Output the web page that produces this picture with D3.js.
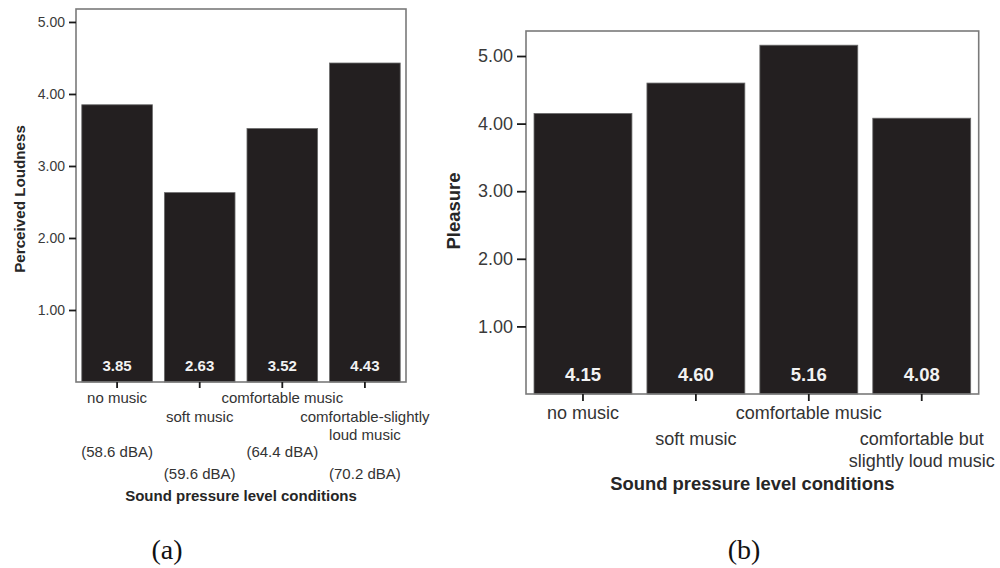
<!DOCTYPE html>
<html>
<head>
<meta charset="utf-8">
<script src="https://cdn.jsdelivr.net/npm/d3@7"></script>
<style>
  html, body { margin: 0; padding: 0; background: #fff; }
  svg { display: block; font-family: "Liberation Sans", Arial, sans-serif; }
</style>
</head>
<body>
<svg id="chart" width="1000" height="568"></svg>
<script>
// Panel (a): perceived loudness per sound pressure level condition
const categoriesA = [["no music"], ["soft music"], ["comfortable music"], ["comfortable-slightly", "loud music"]];
const levelsA = ["(58.6 dBA)", "(59.6 dBA)", "(64.4 dBA)", "(70.2 dBA)"];
const loudness = [3.85, 2.63, 3.52, 4.43];

// Panel (b): pleasure per sound pressure level condition
const categoriesB = [["no music"], ["soft music"], ["comfortable music"], ["comfortable but", "slightly loud music"]];
const pleasure = [4.15, 4.60, 5.16, 4.08];

const yTicks = [1, 2, 3, 4, 5];
const xTitle = "Sound pressure level conditions";
const panelTags = ["(a)", "(b)"];

const svg = d3.select("#chart");
const barFill = "#231f20";

function panel(cfg) {
  const g = svg.append("g");
  const keys = cfg.values.map((d, i) => i);
  const x = d3.scaleBand().domain(keys).range([cfg.left, cfg.right])
    .paddingInner(cfg.padIn).paddingOuter(cfg.padOut);
  const y = d3.scaleLinear().domain([0, cfg.yMax]).range([cfg.bottom, cfg.top]);

  // bars
  g.selectAll("rect.bar").data(cfg.values).join("rect")
    .attr("class", "bar")
    .attr("x", (d, i) => x(i))
    .attr("width", x.bandwidth())
    .attr("y", d => y(d))
    .attr("height", d => y(0) - y(d))
    .attr("fill", barFill)
    .attr("stroke", "#6a6a6a")
    .attr("stroke-width", 0.8);

  // value labels at the foot of each bar
  g.selectAll("text.val").data(cfg.values).join("text")
    .attr("class", "val")
    .attr("x", (d, i) => x(i) + x.bandwidth() / 2)
    .attr("y", y(0) - cfg.valLift)
    .attr("text-anchor", "middle")
    .attr("font-weight", "bold")
    .attr("font-size", cfg.valSize)
    .attr("fill", "#f2f2f2")
    .text(d => d.toFixed(2));

  // frame
  g.append("rect")
    .attr("x", cfg.left).attr("y", cfg.top)
    .attr("width", cfg.right - cfg.left).attr("height", cfg.bottom - cfg.top)
    .attr("fill", "none").attr("stroke", "#7a7a7a").attr("stroke-width", 1.6);

  // y axis
  const ya = g.append("g").attr("transform", `translate(${cfg.left},0)`)
    .call(d3.axisLeft(y).tickValues(yTicks).tickSize(cfg.yTick).tickPadding(4)
      .tickFormat(d3.format(".2f")));
  ya.select(".domain").remove();
  ya.selectAll(".tick line").attr("stroke", "#1a1a1a").attr("stroke-width", 1.8);
  ya.selectAll(".tick text").attr("font-size", cfg.tickSize)
    .attr("font-family", "Liberation Sans, Arial, sans-serif").attr("fill", "#3a3a3a");

  // x axis ticks
  const xa = g.append("g").attr("transform", `translate(0,${cfg.bottom})`)
    .call(d3.axisBottom(x).tickSize(cfg.xTick).tickFormat(""));
  xa.select(".domain").remove();
  xa.selectAll(".tick line").attr("stroke", "#1a1a1a").attr("stroke-width", 1.8);

  // staggered category labels
  cfg.cats.forEach((lines, i) => {
    const cx = x(i) + x.bandwidth() / 2;
    const start = i % 2 === 0 ? cfg.catY0 : cfg.catY1;
    lines.forEach((t, k) => {
      g.append("text")
        .attr("x", cx).attr("y", start + k * cfg.lineH)
        .attr("text-anchor", "middle")
        .attr("font-size", cfg.catSize)
        .attr("fill", "#333")
        .text(t);
    });
    if (cfg.levels) {
      g.append("text")
        .attr("x", cx).attr("y", i % 2 === 0 ? cfg.lvlY0 : cfg.lvlY1)
        .attr("text-anchor", "middle")
        .attr("font-size", cfg.catSize)
        .attr("fill", "#333")
        .text(cfg.levels[i]);
    }
  });

  // axis titles
  g.append("text")
    .attr("x", (cfg.left + cfg.right) / 2).attr("y", cfg.xTitleY)
    .attr("text-anchor", "middle").attr("font-weight", "bold")
    .attr("font-size", cfg.titleSize).attr("fill", "#262626")
    .text(xTitle);
  g.append("text")
    .attr("transform", `translate(${cfg.yTitleX},${cfg.yTitleY}) rotate(-90)`)
    .attr("text-anchor", "middle").attr("font-weight", "bold")
    .attr("font-size", cfg.yTitleSize).attr("fill", "#262626")
    .text(cfg.yTitle);

  // panel tag
  svg.append("text")
    .attr("x", cfg.tagX).attr("y", 559)
    .attr("text-anchor", "middle")
    .attr("font-family", "Liberation Serif, Times New Roman, serif")
    .attr("font-size", 28).attr("fill", "#111")
    .text(cfg.tag);
}

panel({
  values: loudness, cats: categoriesA, levels: levelsA,
  left: 76, right: 406, top: 9, bottom: 382, yMax: 5.18,
  padIn: 0.145, padOut: 0.07,
  valLift: 11.5, valSize: 15, tickSize: 14, yTick: 7, xTick: 6,
  catSize: 15, catY0: 403, catY1: 421.7, lineH: 18.5,
  lvlY0: 456.7, lvlY1: 479,
  titleSize: 15, xTitleY: 500.5,
  yTitle: "Perceived Loudness", yTitleSize: 15.2, yTitleX: 25, yTitleY: 199,
  tag: panelTags[0], tagX: 167
});

panel({
  values: pleasure, cats: categoriesB, levels: null,
  left: 526, right: 978.7, top: 31, bottom: 394, yMax: 5.37,
  padIn: 0.133, padOut: 0.071,
  valLift: 13, valSize: 18.5, tickSize: 18, yTick: 9, xTick: 7,
  catSize: 18, catY0: 418.5, catY1: 444.5, lineH: 22.2,
  titleSize: 18.4, xTitleY: 490,
  yTitle: "Pleasure", yTitleSize: 18.5, yTitleX: 460, yTitleY: 211,
  tag: panelTags[1], tagX: 744
});
</script>
</body>
</html>
